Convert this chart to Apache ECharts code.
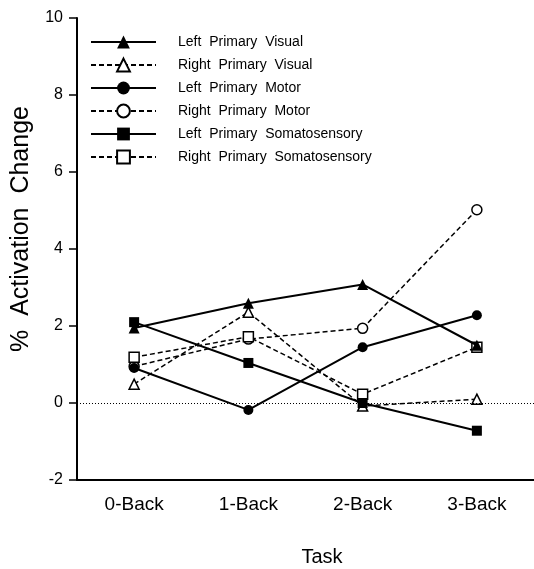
<!DOCTYPE html>
<html>
<head>
<meta charset="utf-8">
<script src="https://cdn.jsdelivr.net/npm/echarts@6/dist/echarts.min.js"></script>
<style>html,body{margin:0;padding:0;background:#fff}#c{width:534px;height:569px}</style>
</head>
<body>
<div id="c"></div>
<script>
var categories = ['0-Back', '1-Back', '2-Back', '3-Back'];
var yTicks = [-2, 0, 2, 4, 6, 8, 10];
var leftPrimaryVisual = [1.95, 2.59, 3.08, 1.5];
var rightPrimaryVisual = [0.49, 2.36, -0.08, 0.1];
var leftPrimaryMotor = [0.91, -0.18, 1.45, 2.28];
var rightPrimaryMotor = [0.95, 1.66, 1.94, 5.02];
var leftPrimarySomatosensory = [2.1, 1.04, 0.0, -0.72];
var rightPrimarySomatosensory = [1.19, 1.72, 0.23, 1.45];
var seriesNames = ['Left  Primary  Visual', 'Right  Primary  Visual', 'Left  Primary  Motor', 'Right  Primary  Motor', 'Left  Primary  Somatosensory', 'Right  Primary  Somatosensory'];

var FONT = '"Liberation Sans", Arial, Helvetica, sans-serif';
function mk(name, data, symbol, filled, dashed, size) {
  return {
    name: name, type: 'line', data: data,
    symbol: symbol, symbolSize: size,
    showSymbol: true,
    lineStyle: { color: '#000', width: dashed ? 1.5 : 2, type: dashed ? [5, 3] : 'solid' },
    itemStyle: { color: filled ? '#000' : '#fff', borderColor: '#000', borderWidth: filled ? 0 : 1.5 },
    z: filled ? 3 : 2
  };
}
var series = [
  mk(seriesNames[0], leftPrimaryVisual, 'triangle', true, false, 11),
  mk(seriesNames[1], rightPrimaryVisual, 'triangle', false, true, 10),
  mk(seriesNames[2], leftPrimaryMotor, 'circle', true, false, 10),
  mk(seriesNames[3], rightPrimaryMotor, 'circle', false, true, 10),
  mk(seriesNames[4], leftPrimarySomatosensory, 'rect', true, false, 10),
  mk(seriesNames[5], rightPrimarySomatosensory, 'rect', false, true, 10)
];
series[0].markLine = {
  silent: true, symbol: ['none', 'none'], label: { show: false },
  lineStyle: { type: [1, 2], color: '#000', width: 1 },
  data: [{ yAxis: 0 }]
};

var chart = echarts.init(document.getElementById('c'));
chart.setOption({
  animation: false,
  backgroundColor: '#fff',
  grid: { left: 77, top: 18, width: 460, height: 462 },
  legend: {
    orient: 'vertical', left: 85, top: 29,
    itemWidth: 65, itemHeight: 16, itemGap: 7,
    data: seriesNames,
    textStyle: { fontFamily: FONT, fontSize: 14, color: '#000', padding: [0, 0, 0, 17], lineHeight: 16 }
  },
  xAxis: {
    type: 'category', data: categories, boundaryGap: true,
    axisLine: { onZero: false, lineStyle: { color: '#000', width: 2 } },
    axisTick: { alignWithLabel: true, length: 7, lineStyle: { color: '#000', width: 1.5 } },
    axisLabel: { fontFamily: FONT, fontSize: 19, color: '#000', margin: 15 },
    splitLine: { show: false }
  },
  yAxis: {
    type: 'value', min: yTicks[0], max: yTicks[yTicks.length - 1], interval: 2,
    axisLine: { show: true, onZero: false, lineStyle: { color: '#000', width: 2 } },
    axisTick: { show: true, length: 8, lineStyle: { color: '#000', width: 1.5 } },
    axisLabel: { fontFamily: FONT, fontSize: 16, color: '#000', margin: 14 },
    splitLine: { show: false }
  },
  graphic: [
    { type: 'text', x: 322, y: 557, style: { text: 'Task', font: '20px ' + FONT, fill: '#000', align: 'center', verticalAlign: 'middle' } },
    { type: 'text', x: 21, y: 229, rotation: Math.PI / 2, style: { text: '%  Activation  Change', font: '25px ' + FONT, fill: '#000', align: 'center', verticalAlign: 'middle' } }
  ],
  series: series
});
</script>
</body>
</html>
